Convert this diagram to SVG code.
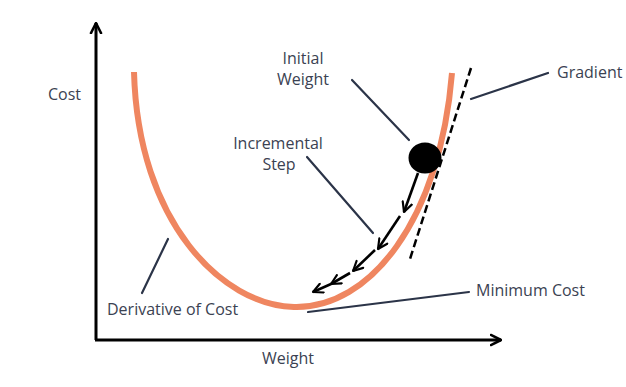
<svg xmlns="http://www.w3.org/2000/svg" width="626" height="387" viewBox="0 0 626 387">
<defs>
<marker id="chev" viewBox="0 0 10 10" refX="9" refY="5" markerWidth="4.6" markerHeight="4.6" orient="auto" markerUnits="strokeWidth">
<path d="M1,1 L9,5 L1,9" fill="none" stroke="#000" stroke-width="1.8" stroke-linecap="round" stroke-linejoin="round"/>
</marker>
<marker id="axarr" viewBox="0 0 10 10" refX="9" refY="5" markerWidth="4.2" markerHeight="4.6" orient="auto" markerUnits="strokeWidth">
<path d="M1,1 L9,5 L1,9" fill="none" stroke="#000" stroke-width="2" stroke-linecap="round" stroke-linejoin="round"/>
</marker>
</defs>
<style>
.lbl{font-family:"Open Sans","DejaVu Sans",sans-serif;font-size:16px;fill:#3b4252}
.lead{stroke:#2b3448;stroke-width:2.2;fill:none;stroke-linecap:round}
.step{stroke:#000;stroke-width:2.6;fill:none;marker-end:url(#chev)}
</style>
<rect width="626" height="387" fill="#fff"/>
<g id="axes">
<line x1="96" y1="340" x2="96" y2="23" stroke="#000" stroke-width="3" marker-end="url(#axarr)"/>
<line x1="95" y1="340" x2="501" y2="340" stroke="#000" stroke-width="3" marker-end="url(#axarr)"/>
</g>
<g id="curve">
<path d="M134,72 C138,222 222,305 294,307 C370,309 440,220 452,73" fill="none" stroke="#EF8660" stroke-width="6" stroke-linecap="butt"/>
</g>
<g id="gradient-line">
<line x1="471" y1="68" x2="410" y2="259" stroke="#000" stroke-width="2.5" stroke-dasharray="8,4"/>
</g>
<g id="ball">
<ellipse cx="425" cy="158" rx="16.5" ry="15.5" fill="#000"/>
</g>
<g id="connectors">
<line class="step" x1="418" y1="173" x2="404" y2="212"/>
<line class="step" x1="400" y1="216" x2="378" y2="249"/>
<line class="step" x1="375" y1="250" x2="353" y2="271"/>
<line class="step" x1="350" y1="273" x2="331" y2="284"/>
<line class="step" x1="331" y1="284" x2="313" y2="292"/>
<line class="lead" x1="352" y1="80" x2="409" y2="140"/>
<line class="lead" x1="307" y1="157" x2="373" y2="233"/>
<line class="lead" x1="471" y1="99" x2="548" y2="73"/>
<line class="lead" x1="142" y1="293" x2="168" y2="239"/>
<line class="lead" x1="308" y1="312" x2="469" y2="292"/>
</g>
<g id="labels">
<text class="lbl" x="303" y="64" text-anchor="middle">Initial</text>
<text class="lbl" x="303" y="85" text-anchor="middle">Weight</text>
<text class="lbl" x="278" y="149" text-anchor="middle">Incremental</text>
<text class="lbl" x="279" y="170" text-anchor="middle">Step</text>
<text class="lbl" x="557" y="78">Gradient</text>
<text class="lbl" x="48" y="100">Cost</text>
<text class="lbl" x="107" y="315">Derivative of Cost</text>
<text class="lbl" x="476" y="296">Minimum Cost</text>
<text class="lbl" x="288" y="364" text-anchor="middle">Weight</text>
</g>
</svg>
